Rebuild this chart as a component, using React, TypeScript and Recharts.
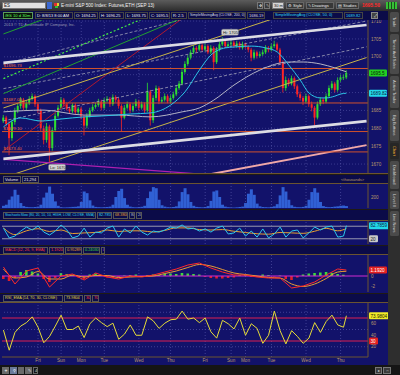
import React from "react";
import { ComposedChart, Bar, Line, XAxis, YAxis, ReferenceLine, ReferenceDot, Cell } from "recharts";

// ---- 30 minute bars ----
const opens = [
  1682.0, 1683.0, 1681.25, 1677.25, 1681.75, 1685.0, 1686.25, 1688.0, 1685.75, 1687.0,
  1688.25, 1689.0, 1686.75, 1685.0, 1680.0, 1676.75, 1680.5, 1674.5, 1679.5, 1683.5,
  1685.75, 1688.0, 1686.75, 1685.5, 1684.75, 1686.5, 1684.5, 1685.5, 1683.25, 1680.75,
  1683.5, 1685.0, 1686.0, 1686.5, 1687.5, 1685.75, 1687.75, 1688.25, 1686.75, 1688.75,
  1688.0, 1686.25, 1683.0, 1685.75, 1686.75, 1685.0, 1686.25, 1687.5, 1685.75, 1686.75,
  1685.0, 1690.25, 1682.25, 1688.5, 1691.25, 1687.5, 1688.0, 1689.0, 1687.5, 1688.5,
  1689.5, 1691.25, 1692.5, 1695.75, 1698.0, 1699.75, 1701.25, 1702.5, 1702.0, 1703.25,
  1702.0, 1703.0, 1701.25, 1702.5, 1698.5, 1702.0, 1703.5, 1704.25, 1703.0, 1703.5,
  1704.0, 1703.0, 1703.75, 1702.5, 1703.5, 1702.75, 1702.0, 1699.75, 1701.25, 1700.25,
  1700.75, 1701.25, 1702.5, 1702.0, 1703.0, 1703.5, 1702.0, 1698.5, 1691.25, 1693.5,
  1692.5, 1694.0, 1691.75, 1689.5, 1688.5, 1687.5, 1689.0, 1686.75, 1685.75, 1683.0,
  1686.75, 1688.0, 1687.5, 1689.0, 1691.25, 1692.5, 1690.75, 1693.5, 1694.25, 1694.25,
];
const closes = [
  1683.0, 1681.25, 1677.25, 1681.75, 1685.0, 1686.25, 1688.0, 1685.75, 1687.0, 1688.25,
  1689.0, 1686.75, 1685.0, 1680.0, 1676.75, 1680.5, 1674.5, 1679.5, 1683.5, 1685.75,
  1688.0, 1686.75, 1685.5, 1684.75, 1686.5, 1684.5, 1685.5, 1683.25, 1680.75, 1683.5,
  1685.0, 1686.0, 1686.5, 1687.5, 1685.75, 1687.75, 1688.25, 1686.75, 1688.75, 1688.0,
  1686.25, 1683.0, 1685.75, 1686.75, 1685.0, 1686.25, 1687.5, 1685.75, 1686.75, 1685.0,
  1690.25, 1682.25, 1688.5, 1691.25, 1687.5, 1688.0, 1689.0, 1687.5, 1688.5, 1689.5,
  1691.25, 1692.5, 1695.75, 1698.0, 1699.75, 1701.25, 1702.5, 1702.0, 1703.25, 1702.0,
  1703.0, 1701.25, 1702.5, 1698.5, 1702.0, 1703.5, 1704.25, 1703.0, 1703.5, 1704.0,
  1703.0, 1703.75, 1702.5, 1703.5, 1702.75, 1702.0, 1699.75, 1701.25, 1700.25, 1700.75,
  1701.25, 1702.5, 1702.0, 1703.0, 1703.5, 1702.0, 1698.5, 1691.25, 1693.5, 1692.5,
  1694.0, 1691.75, 1689.5, 1688.5, 1687.5, 1689.0, 1686.75, 1685.75, 1683.0, 1686.75,
  1688.0, 1687.5, 1689.0, 1691.25, 1692.5, 1690.75, 1693.5, 1694.25, 1694.25, 1695.5,
];
const highs = [
  1683.75, 1683.5, 1682.0, 1682.5, 1685.75, 1687.0, 1688.75, 1688.5, 1687.75, 1689.0,
  1689.75, 1689.5, 1687.25, 1685.5, 1680.75, 1681.5, 1681.0, 1680.25, 1684.25, 1686.5,
  1688.75, 1688.5, 1687.25, 1686.0, 1687.0, 1687.0, 1686.0, 1686.0, 1683.75, 1684.25,
  1685.75, 1686.75, 1687.25, 1688.25, 1688.0, 1688.5, 1689.0, 1688.75, 1689.5, 1689.25,
  1688.5, 1686.75, 1686.5, 1687.5, 1687.25, 1687.0, 1688.25, 1688.0, 1687.5, 1687.25,
  1692.75, 1690.75, 1689.25, 1692.0, 1691.75, 1688.75, 1689.75, 1689.5, 1689.25, 1690.25,
  1692.0, 1693.25, 1696.5, 1698.75, 1700.5, 1702.0, 1703.25, 1703.0, 1704.0, 1703.75,
  1703.75, 1703.5, 1703.25, 1703.0, 1702.75, 1704.25, 1705.5, 1704.75, 1704.25, 1704.75,
  1704.5, 1704.5, 1704.25, 1704.25, 1704.0, 1703.25, 1702.5, 1702.0, 1701.75, 1701.5,
  1702.0, 1703.25, 1703.0, 1703.75, 1704.5, 1704.0, 1702.5, 1699.0, 1694.5, 1694.0,
  1694.75, 1694.5, 1692.25, 1690.25, 1689.0, 1689.75, 1689.5, 1687.5, 1686.25, 1687.5,
  1688.75, 1688.5, 1689.75, 1692.0, 1693.25, 1693.0, 1694.25, 1695.0, 1695.0, 1696.25,
];
const lows = [
  1681.5, 1680.5, 1672.5, 1676.5, 1681.0, 1684.25, 1685.5, 1685.0, 1685.0, 1686.5,
  1687.75, 1686.0, 1684.25, 1679.25, 1675.5, 1676.0, 1670.5, 1673.75, 1679.0, 1683.0,
  1685.25, 1686.0, 1685.0, 1684.0, 1684.25, 1684.0, 1684.0, 1682.5, 1678.0, 1680.0,
  1683.0, 1684.5, 1685.5, 1686.0, 1685.0, 1685.25, 1687.25, 1686.0, 1686.25, 1687.25,
  1685.5, 1679.0, 1682.5, 1685.25, 1684.25, 1684.5, 1685.75, 1685.0, 1685.25, 1684.25,
  1684.5, 1680.75, 1681.5, 1687.75, 1686.75, 1687.0, 1687.5, 1687.0, 1687.0, 1688.0,
  1689.0, 1690.75, 1692.0, 1695.25, 1697.5, 1699.25, 1700.75, 1701.25, 1701.5, 1701.5,
  1701.5, 1700.75, 1700.75, 1696.25, 1698.0, 1701.5, 1703.0, 1702.5, 1702.5, 1703.0,
  1702.5, 1702.5, 1702.0, 1702.0, 1702.25, 1701.25, 1698.75, 1699.25, 1699.5, 1699.75,
  1700.25, 1700.75, 1701.25, 1701.5, 1702.5, 1701.5, 1697.75, 1690.0, 1690.5, 1691.75,
  1692.0, 1691.0, 1688.75, 1687.75, 1686.5, 1687.0, 1686.0, 1684.75, 1680.75, 1682.5,
  1686.25, 1686.75, 1687.0, 1688.5, 1690.75, 1690.0, 1690.25, 1693.0, 1693.5, 1693.75,
];
// volume in thousands
const volumes = [
  40, 60, 150, 210, 330, 240, 90, 35, 20, 15,
  12, 18, 25, 60, 190, 280, 390, 260, 120, 40,
  15, 10, 12, 15, 20, 22, 30, 110, 300, 270,
  140, 45, 20, 15, 12, 15, 18, 25, 60, 200,
  310, 350, 180, 60, 25, 15, 12, 18, 22, 40,
  180, 300, 380, 360, 150, 50, 25, 15, 12, 18,
  30, 120, 290, 360, 250, 110, 40, 20, 15, 12,
  18, 35, 130, 300, 320, 200, 60, 25, 15, 10,
  8, 12, 18, 25, 90, 260, 340, 240, 80, 30,
  18, 15, 12, 20, 30, 70, 230, 380, 300, 150,
  50, 22, 15, 14, 20, 40, 150, 290, 360, 280,
  110, 35, 20, 15, 18, 25, 30, 40, 45, 35,
];

// moving averages, sampled at some bars (bar index, value)
const sma50At = [0, 6, 13, 20, 28, 34, 39, 44, 51, 58, 63, 68, 72, 77, 80, 86, 91, 95, 99, 103, 106, 110, 112, 115, 117, 119];
const sma50 = [1680.4, 1682.9, 1682.05, 1682.6, 1683.2, 1683.45, 1683.7, 1684.0, 1684.3, 1686.5, 1690.2, 1696.3, 1700.5, 1702.5, 1702.75, 1703.0, 1702.5, 1701.35, 1697.7, 1693.5, 1689.9, 1688.5, 1688.5, 1689.0, 1689.6, 1689.82];
const sma200At = [0, 14, 28, 40, 51, 62, 68, 73, 80, 89, 99, 104, 110, 115, 119];
const sma200 = [1684.6, 1685.1, 1683.7, 1683.7, 1683.2, 1684.6, 1685.7, 1687.9, 1692.1, 1696.3, 1698.55, 1698.55, 1698.0, 1696.9, 1695.8];

// studies: every 2nd / 4th bar, the last value sits on the last bar
const stochK = [71, 24, 33, 57, 76, 62, 81, 52, 38, 57, 86, 62, 24, 33, 71, 28, 52, 48, 71, 81, 28, 67, 48, 81, 52, 38, 57, 52, 62, 76, 71, 86, 67, 71, 57, 67, 52, 71, 81, 43, 48, 71, 33, 57, 28, 67, 24, 43, 76, 28, 57, 62, 24, 48, 76, 62, 76, 81, 28, 33, 82.79];
const stochD = [72, 40, 58, 68, 55, 62, 45, 48, 50, 62, 55, 58, 58, 52, 60, 72, 72, 64, 62, 64, 56, 50, 44, 42, 50, 48, 46, 56, 70, 58, 68.38];
const macdValue = [1.8, -1.6, 1.0, 1.6, -2.2, 0, 0.4, -0.8, 0.6, -0.2, -0.6, 0, -0.2, 0.2, 0.8, 1.4, 2.2, 2.6, 1.6, 0.8, 0.2, 0.2, -0.2, -0.4, -0.4, -2.4, -2.0, -1.2, 0.2, 1.4, 1.19];
const macdAvg = [1.4, -0.4, -0.2, 0.9, -0.6, -0.6, 0.2, -0.2, 0.1, 0.1, -0.3, -0.2, -0.1, 0.0, 0.5, 1.0, 1.7, 2.3, 2.0, 1.3, 0.6, 0.3, 0.0, -0.3, -0.4, -1.6, -2.1, -1.6, -0.5, 0.8, 0.95];
const macdDiff = [-0.6, -1.0, -0.4, 0.8, 1.2, 0.9, 0.5, -0.6, -1.2, -0.4, 0.6, 0.4, 0.2, -0.3, -0.6, 0.3, 0.5, 0.2, -0.3, -0.4, -0.3, 0.1, 0.2, 0.3, -0.1, 0.2, 0.3, 0.2, 0.4, 0.5, 0.4, 0.6, 0.5, 0.4, 0.3, -0.2, -0.4, -0.5, -0.5, -0.4, -0.3, 0.2, 0.3, -0.2, -0.2, 0.3, 0.2, -0.1, 0.1, -0.6, -0.8, -0.3, 0.3, 0.5, 0.6, 0.7, 0.8, 0.6, 0.4, 0.25];
const rsi = [49, 14, 45, 56, 62, 72, 54, 27, 38, 56, 75, 50, 50, 56, 36, 60, 70, 62, 55, 61, 33, 42, 58, 40, 40, 72, 65, 52, 61, 67, 68, 82, 68, 70, 62, 70, 46, 35, 66, 60, 51, 70, 40, 60, 52, 26, 40, 82, 48, 25, 48, 38, 26, 35, 62, 45, 64, 75, 58, 54, 73.98];

const dayTicks = [12, 20, 27, 35, 47, 58, 70, 79, 84, 93, 105, 117];
const dayNames = ["Fri", "Sun", "Mon", "Tue", "Wed", "Thu", "Fri", "Sun", "Mon", "Tue", "Wed", "Thu"];
const priceGrid = [1670, 1675, 1680, 1685, 1690, 1695, 1700, 1705, 1710];
// 1690 and 1695 sit under the value tags, so they are not printed
const priceTicks = [1670, 1675, 1680, 1685, 1700, 1705, 1710];
const levels = [1696.73, 1687.09, 1679.1, 1673.4];
const levelNames = ["$1696.73", "$1687.09", "$1679.10", "$1673.40"];

// drawings: [fromBar, fromPrice, toBar, toPrice]
const whiteLines = [[0, 1698.3, 126, 1708.9], [0, 1671.45, 126, 1682.0]];
const yellowLines = [[0, 1666.2, 126, 1699.8], [0, 1685.7, 126, 1719.3]];
const greenLines = [[0, 1689.7, 70, 1713.6], [0, 1706.4, 20, 1712.3]];
const greenDotted = [[0, 1693.9, 60, 1714.7]];
const redLines = [[0, 1673.7, 70, 1715.5]];
const grayDashed = [[0, 1698.0, 80, 1714.0], [0, 1682.1, 126, 1702.8], [0, 1691.1, 126, 1710.0]];
const pinkLines = [[70, 1666.9, 126, 1675.3]];
const magentaLines = [[0, 1671.3, 70, 1667.1]];

const tabs = ["Trade", "Times And Sales", "Active Trader", "Big Buttons", "Chart", "Dashboard", "Level II", "Live News"];
const tabSpans = [[12, 32], [34, 74], [76, 108], [110, 141], [143, 159], [161, 189], [191, 209], [211, 236]];

// ---- build table ----
const LAST = closes.length - 1;
const SLOTS = 127;
function spread(values: number[], step: number) {
  const m = new Map<number, number>();
  values.forEach((v, j) => m.set(Math.min(j * step, LAST), v));
  return m;
}
function pairs(at: number[], values: number[]) {
  const m = new Map<number, number>();
  at.forEach((k, j) => m.set(k, values[j]));
  return m;
}
const s50 = pairs(sma50At, sma50);
const s200 = pairs(sma200At, sma200);
const kMap = spread(stochK, 2);
const dMap = spread(stochD, 4);
const mvMap = spread(macdValue, 4);
const maMap = spread(macdAvg, 4);
const dfMap = spread(macdDiff, 2);
const rsiMap = spread(rsi, 2);

const table = Array.from({ length: SLOTS }, (_, k) => {
  const bar = k <= LAST;
  return {
    k,
    candle: bar ? [lows[k], highs[k]] : null,
    open: bar ? opens[k] : null,
    high: bar ? highs[k] : null,
    low: bar ? lows[k] : null,
    close: bar ? closes[k] : null,
    vol: bar ? volumes[k] : null,
    sma50: s50.get(k) ?? null,
    sma200: s200.get(k) ?? null,
    stochK: kMap.get(k) ?? null,
    stochD: dMap.get(k) ?? null,
    macd: mvMap.get(k) ?? null,
    avg: maMap.get(k) ?? null,
    diff: dfMap.get(k) ?? null,
    rsi: rsiMap.get(k) ?? null,
  };
});

const NAVY = "#12126a";
const STRIP = "#0b0b48";
const GAP = "#1f1a14";
const FRAME = "#6b5430";
const TAN = "#b8986a";
const GRID = "#5555a8";
const FONT = '"Liberation Sans", Arial, sans-serif';
const M = { top: 0, right: 0, bottom: 0, left: 2 };
const CW = 388;

function Candle(props: any) {
  const { x, y, width, height, payload } = props;
  if (!payload || payload.high == null) return null;
  const top = Math.min(y, y + height);
  const span = Math.abs(height);
  const px = span / Math.max(payload.high - payload.low, 0.01);
  const cx = x + width / 2;
  const hiB = Math.max(payload.open, payload.close);
  const loB = Math.min(payload.open, payload.close);
  const bTop = top + (payload.high - hiB) * px;
  const bH = Math.max((hiB - loB) * px, 0.8);
  const col = payload.close >= payload.open ? "#2ee02e" : "#ff2424";
  return (
    <g>
      <line x1={cx} x2={cx} y1={top} y2={top + span} stroke={col} strokeWidth={0.8} />
      <rect x={cx - 1} y={bTop} width={2} height={bH} fill={col} />
    </g>
  );
}

function Tag(props: any) {
  const { viewBox, text, bg, fg, w = 18 } = props;
  if (!viewBox) return null;
  const x = viewBox.x + viewBox.width + 1;
  const y = viewBox.y;
  return (
    <g>
      <rect x={x} y={y - 3.5} width={w} height={7} rx={1.2} fill={bg} />
      <text x={x + 1.5} y={y + 1.8} fontSize={4.6} fill={fg} fontFamily={FONT}>{text}</text>
    </g>
  );
}

function Bubble(props: any) {
  const { viewBox, text, up } = props;
  if (!viewBox) return null;
  const cx = viewBox.x + viewBox.width / 2;
  const cy = viewBox.y + viewBox.height / 2;
  const y = up ? cy - 8 : cy + 2;
  return (
    <g>
      <rect x={cx - 1} y={y} width={17} height={6} rx={1.5} fill="#d2d2d2" stroke="#777" strokeWidth={0.4} />
      <text x={cx + 0.5} y={y + 4.4} fontSize={4} fill="#202020" fontFamily={FONT}>{text}</text>
    </g>
  );
}

function Box(p: any) {
  const { x, y, w, h = 7, color = "#e6e6e6", bg = "transparent", bd, fs = 4, fw = 400, center, children } = p;
  return (
    <div
      style={{
        position: "absolute", left: x, top: y, width: w, height: h, background: bg,
        border: bd ? `0.6px solid ${bd}` : undefined, boxSizing: "border-box", color,
        fontSize: fs, fontWeight: fw, lineHeight: `${h - (bd ? 1.2 : 0)}px`, whiteSpace: "nowrap",
        overflow: "hidden", paddingLeft: 1, textAlign: center ? "center" : "left",
      }}
    >
      {children}
    </div>
  );
}

function seg(list: number[][], stroke: string, width: number, dash?: string) {
  return list.map((s, i) => (
    <ReferenceLine
      key={stroke + i}
      segment={[{ x: s[0], y: s[1] }, { x: s[2], y: s[3] }]}
      stroke={stroke}
      strokeWidth={width}
      strokeDasharray={dash}
      ifOverflow="hidden"
    />
  ));
}

function vGrid() {
  return dayTicks.map((t) => (
    <ReferenceLine key={"v" + t} x={t} stroke={GRID} strokeDasharray="1 2" strokeWidth={0.7} />
  ));
}

const xHidden = <XAxis dataKey="k" type="category" scale="band" hide />;
const tickStyle = { fill: TAN, fontSize: 4.6, fontFamily: FONT };

function PriceChart() {
  return (
    <ComposedChart width={CW} height={153} data={table} margin={M}>
      {xHidden}
      <YAxis orientation="right" width={20} type="number" domain={[1667.5, 1710.3]} ticks={priceTicks} allowDataOverflow
        tick={tickStyle} tickLine={false} tickSize={0} tickMargin={3} axisLine={{ stroke: FRAME }} interval={0} />
      {priceGrid.map((t) => (
        <ReferenceLine key={"h" + t} y={t} stroke={GRID} strokeDasharray="1 2" strokeWidth={0.6} />
      ))}
      {vGrid()}
      {seg(grayDashed, "#a0a0b8", 0.8, "3 2")}
      {seg(greenLines, "#22a030", 1)}
      {seg(greenDotted, "#44ee44", 1.2, "2 2")}
      {seg(redLines, "#b01830", 1)}
      {seg(yellowLines, "#c8b448", 1)}
      {seg(magentaLines, "#b020b0", 1.2)}
      {seg(pinkLines, "#f0a8a8", 2)}
      {levels.map((p, i) => (
        <ReferenceLine key={"l" + i} y={p} stroke="#d0522c" strokeWidth={1}
          label={{ value: levelNames[i], position: "insideBottomLeft", fill: "#f06a3a", fontSize: 4.4, offset: 1.5 }} />
      ))}
      <Line dataKey="sma200" type="monotone" stroke="#b4b4c6" strokeWidth={1} dot={false} connectNulls isAnimationActive={false} />
      <Bar dataKey="candle" shape={<Candle />} isAnimationActive={false} />
      <Line dataKey="sma50" type="monotone" stroke="#2cc6e8" strokeWidth={1} dot={false} connectNulls isAnimationActive={false} />
      {seg(whiteLines, "#dcdce4", 2.6)}
      <ReferenceDot x={76} y={1705.5} r={1} fill="none" stroke="none" label={<Bubble text="Hi: 1705.5" up />} />
      <ReferenceDot x={16} y={1670.5} r={1} fill="none" stroke="none" label={<Bubble text="Lo: 1670.5" />} />
      <ReferenceLine y={1695.5} stroke="none" label={<Tag text="1695.5" bg="#22d022" fg="#0a200a" />} />
      <ReferenceLine y={1689.82} stroke="none" label={<Tag text="1689.82" bg="#22d8ea" fg="#0a2040" />} />
    </ComposedChart>
  );
}

function VolumeChart() {
  return (
    <ComposedChart width={CW} height={25} data={table} margin={M} barCategoryGap={0}>
      {xHidden}
      <YAxis orientation="right" width={20} type="number" domain={[0, 455]} ticks={[200]}
        tick={tickStyle} tickLine={false} tickSize={0} tickMargin={3} axisLine={{ stroke: FRAME }} />
      {vGrid()}
      <Bar dataKey="vol" fill="#3060d4" isAnimationActive={false} />
    </ComposedChart>
  );
}

function StochChart() {
  return (
    <ComposedChart width={CW} height={23} data={table} margin={M}>
      {xHidden}
      <YAxis orientation="right" width={20} type="number" domain={[-5, 105]} tick={false} tickLine={false} axisLine={{ stroke: FRAME }} />
      {vGrid()}
      <ReferenceLine y={80} stroke="#a8a8b8" strokeWidth={0.9} />
      <ReferenceLine y={20} stroke="#a8a8b8" strokeWidth={0.9} />
      <Line dataKey="stochD" type="monotone" stroke="#e8a030" strokeWidth={1} dot={false} connectNulls isAnimationActive={false} />
      <Line dataKey="stochK" type="linear" stroke="#2cc8ea" strokeWidth={1} dot={false} connectNulls isAnimationActive={false} />
      <ReferenceLine y={82.79} stroke="none" label={<Tag text="82.7859" bg="#22d8ea" fg="#0a2040" w={20} />} />
      <ReferenceLine y={20} stroke="none" label={<Tag text="20" bg="#c8c8c8" fg="#222" w={9} />} />
    </ComposedChart>
  );
}

function MacdChart() {
  return (
    <ComposedChart width={CW} height={37} data={table} margin={M}>
      {xHidden}
      <YAxis orientation="right" width={20} type="number" domain={[-3.2, 4.2]} ticks={[0, -2]} allowDataOverflow
        tick={tickStyle} tickLine={false} tickSize={0} tickMargin={3} axisLine={{ stroke: FRAME }} interval={0} />
      {vGrid()}
      <Bar dataKey="diff" barSize={4} isAnimationActive={false}>
        {table.map((r, i) => (
          <Cell key={i} fill={r.diff != null && r.diff >= 0 ? "#3cd83c" : "#e01e2a"} />
        ))}
      </Bar>
      <ReferenceLine y={0} stroke="#d02ad0" strokeWidth={1} />
      <Line dataKey="avg" type="monotone" stroke="#e89a34" strokeWidth={1} dot={false} connectNulls isAnimationActive={false} />
      <Line dataKey="macd" type="linear" stroke="#ff2a2a" strokeWidth={1} dot={false} connectNulls isAnimationActive={false} />
      <ReferenceLine y={1.19} stroke="none" label={<Tag text="1.1920" bg="#e42020" fg="#fff" />} />
    </ComposedChart>
  );
}

function RsiChart() {
  return (
    <ComposedChart width={CW} height={62} data={table} margin={M}>
      <XAxis dataKey="k" type="category" scale="band" ticks={dayTicks} interval={0}
        tickFormatter={(v: any) => dayNames[dayTicks.indexOf(v)] || ""}
        tick={tickStyle} tickLine={false} tickSize={0} tickMargin={2} axisLine={{ stroke: FRAME }} height={8} />
      <YAxis orientation="right" width={20} type="number" domain={[2.2, 96.1]} ticks={[60, 40, 20]} allowDataOverflow
        tick={tickStyle} tickLine={false} tickSize={0} tickMargin={3} axisLine={{ stroke: FRAME }} interval={0} />
      {vGrid()}
      {[80, 50, 20].map((t) => (
        <ReferenceLine key={"r" + t} y={t} stroke={GRID} strokeDasharray="1 2" strokeWidth={0.7} />
      ))}
      <ReferenceLine y={70} stroke="#dc1e50" strokeWidth={1} />
      <ReferenceLine y={30} stroke="#dc1e50" strokeWidth={1} />
      <Line dataKey="rsi" type="linear" stroke="#e6dc38" strokeWidth={1} dot={false} connectNulls isAnimationActive={false} />
      <ReferenceLine y={73.98} stroke="none" label={<Tag text="73.9804" bg="#f0ec28" fg="#202000" w={20} />} />
      <ReferenceLine y={30} stroke="none" label={<Tag text="30" bg="#e42020" fg="#fff" w={9} />} />
    </ComposedChart>
  );
}

function Panel({ top, height, children }: any) {
  return <div style={{ position: "absolute", left: 0, top, width: CW, height, background: NAVY }}>{children}</div>;
}

export default function App() {
  return (
    <div style={{ position: "relative", width: 400, height: 375, background: GAP, overflow: "hidden", fontFamily: FONT }}>
      <style>{"body{margin:0}"}</style>

      {/* top toolbar */}
      <div style={{ position: "absolute", left: 0, top: 0, width: 400, height: 11, background: "linear-gradient(#5c5c5c,#2c2c2c)" }}>
        <Box x={2} y={2} w={44} bg="#e2e2e2" bd="#777" color="#111" fs={4.5}>ES</Box>
        <div style={{ position: "absolute", left: 47, top: 2, width: 5, height: 7, background: "#3a68d0" }} />
        <div style={{ position: "absolute", left: 54, top: 3, width: 2.5, height: 2.5, background: "#e03030" }} />
        <div style={{ position: "absolute", left: 56.5, top: 3, width: 2.5, height: 2.5, background: "#e8d030" }} />
        <div style={{ position: "absolute", left: 55, top: 5.5, width: 2.5, height: 2.5, background: "#30c030" }} />
        <Box x={60} y={2} w={125} color="#f2f2f2" fs={4.6}>E-mini S&amp;P 500 Index: Futures,ETH (SEP 13)</Box>
        <Box x={257} y={2} w={6} bg="#3a3a3a" bd="#777" color="#ddd" fs={4} center>✥</Box>
        <Box x={264} y={2} w={6} bg="#3a3a3a" bd="#777" color="#ddd" fs={4} center>✎</Box>
        <Box x={272} y={2} w={12} bg="#d4d4d4" bd="#777" color="#111" fs={4}>30 m</Box>
        <Box x={286} y={2} w={18} bg="#383838" bd="#666" color="#eee" fs={4}>⚙ Style</Box>
        <Box x={306} y={2} w={28} bg="#383838" bd="#666" color="#eee" fs={4}>✎ Drawings</Box>
        <Box x={336} y={2} w={23} bg="#383838" bd="#666" color="#eee" fs={4}>▤ Studies</Box>
        <Box x={361} y={2} w={23} color="#ff2a2a" fs={5} fw={700}>1695.50</Box>
        <div style={{ position: "absolute", left: 386, top: 2, width: 11, height: 7, background: "repeating-linear-gradient(90deg,#36c036 0 2px,#1a4a1a 2px 3px)" }} />
      </div>

      {/* header row */}
      <div style={{ position: "absolute", left: 0, top: 11, width: CW, height: 9, background: STRIP }}>
        <Box x={3} y={1} w={30} bg="#0a140a" bd="#5a9a5a" color="#5cff5c" fs={4.2}>/ES 10 d 30m</Box>
        <Box x={35} y={1} w={38} bd="#444" color="#f0f0f0" fs={4}>D: 8/8/13 8:00 AM</Box>
        <Box x={74} y={1} w={24} bd="#444" color="#f0f0f0" fs={4}>O: 1694.25</Box>
        <Box x={99} y={1} w={25} bd="#444" color="#f0f0f0" fs={4}>H: 1696.25</Box>
        <Box x={125} y={1} w={23} bd="#444" color="#f0f0f0" fs={4}>L: 1693.75</Box>
        <Box x={149} y={1} w={21} bd="#444" color="#f0f0f0" fs={4}>C: 1695.5</Box>
        <Box x={171} y={1} w={16} bd="#444" color="#f0f0f0" fs={4}>R: 2.5</Box>
        <Box x={188} y={1} w={58} bd="#444" color="#d8d8e0" fs={3.5}>SimpleMovingAvg (CLOSE, 200, 0)</Box>
        <Box x={247} y={1} w={18} bd="#444" color="#d8d8e0" fs={4}>1686.19</Box>
        <Box x={273} y={1} w={70} bd="#444" color="#30d8f0" fs={3.8}>SimpleMovingAvg (CLOSE, 50, 0)</Box>
        <Box x={344} y={1} w={19} bd="#444" color="#30d8f0" fs={4}>1689.82</Box>
        <Box x={371} y={1} w={7} bg="#444" bd="#888" color="#eee" fs={4} center>⤢</Box>
      </div>

      {/* price panel */}
      <Panel top={20} height={154}>
        <div style={{ position: "absolute", left: 4, top: 2, fontSize: 4, color: "#9a9ab4", whiteSpace: "nowrap" }}>
          2013 © TD Ameritrade IP Company, Inc.
        </div>
        <div style={{ position: "absolute", left: 0, top: 0 }}>
          <PriceChart />
        </div>
        <div style={{ position: "absolute", left: 0, top: 153, width: CW, height: 1, background: FRAME }} />
      </Panel>

      {/* volume */}
      <Panel top={175} height={34}>
        <div style={{ position: "absolute", left: 0, top: 0, width: CW, height: 8, background: STRIP, borderBottom: `1px solid ${FRAME}` }}>
          <Box x={3} y={0.5} w={18} bd="#555" color="#e6e6e6" fs={4}>Volume</Box>
          <Box x={22} y={0.5} w={17} bd="#555" color="#e6e6e6" fs={4}>21,294</Box>
          <Box x={340} y={0.5} w={27} color={TAN} fs={4}>&lt;thousands&gt;</Box>
        </div>
        <div style={{ position: "absolute", left: 0, top: 8 }}>
          <VolumeChart />
        </div>
      </Panel>

      {/* stochastic */}
      <Panel top={210} height={35}>
        <div style={{ position: "absolute", left: 0, top: 0, width: CW, height: 10, background: STRIP, borderBottom: `1px solid ${FRAME}` }}>
          <Box x={3} y={1.5} w={93} bd="#555" color="#30d8f0" fs={3.4}>StochasticSlow (80, 20, 10, 10, HIGH, LOW, CLOSE, SMA)</Box>
          <Box x={97} y={1.5} w={15} bd="#555" color="#30d8f0" fs={3.8}>82.7859</Box>
          <Box x={113} y={1.5} w={15} bd="#555" color="#e8a030" fs={3.8}>68.3808</Box>
          <Box x={129} y={1.5} w={6} bd="#555" color="#b8b8c8" fs={3.8}>80</Box>
          <Box x={136} y={1.5} w={6} bd="#555" color="#b8b8c8" fs={3.8}>20</Box>
        </div>
        <div style={{ position: "absolute", left: 0, top: 11 }}>
          <StochChart />
        </div>
      </Panel>

      {/* MACD */}
      <Panel top={246} height={47}>
        <div style={{ position: "absolute", left: 0, top: 0, width: CW, height: 8, background: STRIP, borderBottom: `1px solid ${FRAME}` }}>
          <Box x={3} y={0.5} w={45} bd="#555" color="#ff3a3a" fs={3.8}>MACD (12, 26, 9, EMA)</Box>
          <Box x={49} y={0.5} w={15} bd="#555" color="#ff3a3a" fs={3.8}>1.19202</Box>
          <Box x={65} y={0.5} w={17} bd="#555" color="#e8a030" fs={3.8}>0.952899</Box>
          <Box x={83} y={0.5} w={17} bd="#555" color="#3cd83c" fs={3.8}>0.240305</Box>
          <Box x={101} y={0.5} w={4} bd="#555" color="#e040e0" fs={3.8}>0</Box>
        </div>
        <div style={{ position: "absolute", left: 0, top: 9 }}>
          <MacdChart />
        </div>
      </Panel>

      {/* RSI */}
      <Panel top={294} height={71}>
        <div style={{ position: "absolute", left: 0, top: 0, width: CW, height: 8, background: STRIP, borderBottom: `1px solid ${FRAME}` }}>
          <Box x={3} y={0.5} w={60} bd="#555" color="#e6dc38" fs={3.8}>RSI_EMA (14, 70, 30, CLOSE)</Box>
          <Box x={64} y={0.5} w={19} bd="#555" color="#e6dc38" fs={3.8}>73.9804</Box>
          <Box x={84} y={0.5} w={7} bd="#555" color="#ff3a3a" fs={3.8}>30</Box>
          <Box x={92} y={0.5} w={7} bd="#555" color="#ff3a3a" fs={3.8}>70</Box>
        </div>
        <div style={{ position: "absolute", left: 0, top: 9 }}>
          <RsiChart />
        </div>
      </Panel>

      {/* right gadget tabs */}
      <div style={{ position: "absolute", left: 388, top: 11, width: 12, height: 354, background: "#2e2e2e" }}>
        {tabs.map((t, i) => (
          <div key={t} style={{
            position: "absolute", left: 2, top: tabSpans[i][0] - 11, width: 9, height: tabSpans[i][1] - tabSpans[i][0],
            background: t === "Chart" ? "#262626" : "#4a4a4a", borderRadius: 1.5, color: t === "Chart" ? "#f0b030" : "#d4d4d4",
            fontSize: 4, writingMode: "vertical-rl", display: "flex", alignItems: "center", justifyContent: "center",
            whiteSpace: "nowrap", overflow: "hidden",
          }}>{t}</div>
        ))}
      </div>

      {/* bottom toolbar */}
      <div style={{ position: "absolute", left: 0, top: 365, width: 400, height: 10, background: "#151515" }}>
        <Box x={2} y={1.5} w={7} bg="#6a6a6a" color="#fff" fs={5} center>+</Box>
        <Box x={10} y={1.5} w={7} bg="#6a7a9a" color="#fff" fs={4} center>⚲</Box>
        <Box x={18} y={1.5} w={6} bg="#6a6a6a" color="#fff" fs={4} center> </Box>
        <Box x={25} y={1.5} w={7} bg="#6a6a6a" color="#fff" fs={4} center>✎</Box>
        <Box x={33} y={1.5} w={5} bd="#666" color="#ddd" fs={4} center>4</Box>
        <Box x={375} y={1.5} w={7} bg="#3a3a3a" bd="#777" color="#ddd" fs={4} center>▸</Box>
        <Box x={383} y={1.5} w={8} bg="#3a3a3a" bd="#777" color="#ddd" fs={4} center>⇔</Box>
      </div>
    </div>
  );
}
